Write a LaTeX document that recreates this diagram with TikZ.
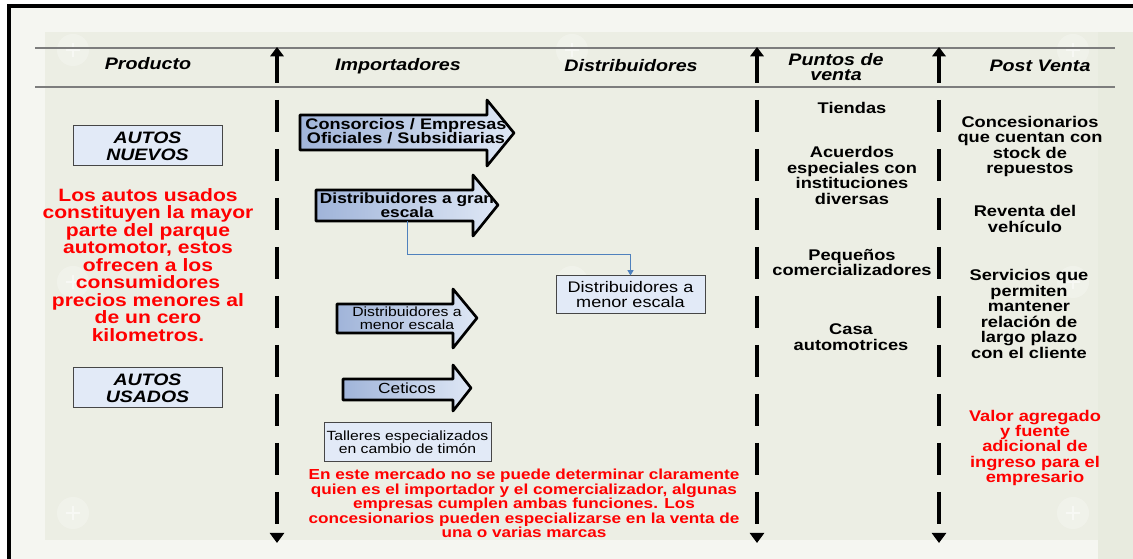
\documentclass[tikz,border=0pt]{standalone}
\usepackage{fontspec}
\setmainfont{Liberation Sans}[FakeStretch=1.18]
\usetikzlibrary{arrows.meta}

\begin{document}
\begin{tikzpicture}[x=0.75pt,y=0.75pt,yscale=-1,xscale=1,
  hdr/.style={font=\bfseries\itshape\fontsize{12.5}{11.3}\selectfont,align=center,inner sep=0.75pt},
  txt/.style={font=\bfseries\fontsize{11.6}{11.6}\selectfont,align=center,inner sep=0.75pt},
  redtxt/.style={txt,color={rgb, 255:red, 255; green, 0; blue, 0 }},
  prodbox/.style={draw={rgb, 255:red, 70; green, 70; blue, 70 },fill={rgb, 255:red, 226; green, 234; blue, 247 },line width=0.75pt,align=center,inner sep=0pt},
  blockarrow/.style={draw=black,line width=2pt,line join=round,left color={rgb, 255:red, 160; green, 180; blue, 217 },right color={rgb, 255:red, 222; green, 231; blue, 245 }},
  septop/.style={line width=2.3pt,-{Triangle[length=7pt,width=10pt]}},
  sepdash/.style={line width=2.3pt,dash pattern=on 24pt off 12.75pt,-{Triangle[length=7.5pt,width=10.5pt]}},
  hline/.style={color={rgb, 255:red, 125; green, 125; blue, 125 },line width=1.1pt},
  conn/.style={color={rgb, 255:red, 79; green, 129; blue, 189 },line width=0.75pt,-{Triangle[length=4pt,width=4.5pt]}}
]
\useasboundingbox (0,0) rectangle (1133,559);

%Background
\fill [color={rgb, 255:red, 245; green, 246; blue, 241 }] (9,6) rectangle (1133,559);
\fill [color={rgb, 255:red, 236; green, 238; blue, 228 }] (45,32) rectangle (1098,540);
\fill [color={rgb, 255:red, 232; green, 235; blue, 223 }] (1098,32) rectangle (1133,559);
\foreach \cx/\cy in {73/50,572/50,1073/50,73/282,572/282,1073/282,73/513,572/513,1073/513}{
  \fill [white,opacity=0.25] (\cx,\cy) circle (16);
  \draw [white,opacity=0.5,line width=1.2pt] (\cx-7,\cy) -- (\cx+7,\cy) (\cx,\cy-7) -- (\cx,\cy+7);
}
%Frame
\draw [line width=2.3pt] (9,559) -- (9,6) -- (1133,6);

%Header lines
\draw [hline] (35,48) -- (1115,48);
\draw [hline] (35,87) -- (1115,87);

%Separators
\draw [septop] (277,83) -- (277,47);
\draw [sepdash] (277,100) -- (277,543);
\draw [septop] (757,83) -- (757,47);
\draw [sepdash] (757,100) -- (757,543);
\draw [septop] (939,83) -- (939,47);
\draw [sepdash] (939,100) -- (939,543);

% Header Nodes
\draw (148,64) node [hdr] (hprod) {Producto};
\draw (398,66) node [hdr] (himp) {Importadores};
\draw (631,66) node [hdr] (hdist) {Distribuidores};
\draw (836,67) node [hdr] (hpunt) {Puntos de\\venta};
\draw (1040,66) node [hdr] (hpost) {Post Venta};

%Product boxes
\draw (147.5,146) node [prodbox,minimum width=111.75pt,minimum height=30pt,font=\bfseries\itshape\fontsize{12.4}{12.5}\selectfont] (nuevos) {AUTOS\\NUEVOS};
\draw (147.5,388) node [prodbox,minimum width=111.75pt,minimum height=30pt,font=\bfseries\itshape\fontsize{12.4}{12.5}\selectfont] (usados) {AUTOS\\USADOS};
\draw (148,265) node [redtxt,font=\bfseries\fontsize{13.4}{13.1}\selectfont] (usadosnota) {Los autos usados\\constituyen la mayor\\parte del parque\\automotor, estos\\ofrecen a los\\consumidores\\precios menores al\\de un cero\\kilometros.};

%Block arrows
\draw [blockarrow] (300,115) -- (487,115) -- (487,100) -- (514,133) -- (487,166) -- (487,150) -- (300,150) -- cycle;
\draw (406,131) node [txt,font=\bfseries\fontsize{11.5}{10.8}\selectfont] (consorcios) {Consorcios / Empresas\\Oficiales / Subsidiarias};
\draw [blockarrow] (316,190) -- (473,190) -- (473,175) -- (498,205) -- (473,236) -- (473,221) -- (316,221) -- cycle;
\draw (407,205) node [txt,font=\bfseries\fontsize{11}{10.5}\selectfont] (gran) {Distribuidores a gran\\escala};
\draw [blockarrow] (337,304) -- (453,304) -- (453,289) -- (477,318) -- (453,348) -- (453,333) -- (337,333) -- cycle;
\draw (407,318) node [txt,font=\fontsize{10}{9.5}\selectfont] (menor) {Distribuidores a\\menor escala};
\draw [blockarrow] (343,379) -- (453,379) -- (453,365) -- (471,388) -- (453,411) -- (453,400) -- (343,400) -- cycle;
\draw (407,388) node [txt,font=\fontsize{11}{11}\selectfont] (ceticos) {Ceticos};

%Other boxes
\draw (407.5,442.5) node [prodbox,minimum width=125.25pt,minimum height=29.25pt,font=\fontsize{10}{9.75}\selectfont] (talleres) {Talleres especializados\\en cambio de timón};
\draw (630.5,295) node [prodbox,minimum width=111.75pt,minimum height=28.5pt,font=\fontsize{11.5}{11.25}\selectfont] (menorbox) {Distribuidores a\\menor escala};

%Connector
\coordinate (granfoot) at (407,221);
\draw [conn] (granfoot) -- (407,255) -| (menorbox.north);

%Bottom note
\draw (524,503.5) node [redtxt,font=\bfseries\fontsize{10.9}{10.8}\selectfont] (mercado) {En este mercado no se puede determinar claramente\\quien es el importador y el comercializador, algunas\\empresas cumplen ambas funciones. Los\\concesionarios pueden especializarse en la venta de\\una o varias marcas};

% Puntos de venta
\draw (852,108) node [txt] (tiendas) {Tiendas};
\draw (852,175.5) node [txt] (acuerdos) {Acuerdos\\especiales con\\instituciones\\diversas};
\draw (852,262.5) node [txt] (pequenos) {Pequeños\\comercializadores};
\draw (851,337) node [txt] (casa) {Casa\\automotrices};

% Post venta
\draw (1030,146.5) node [txt] (concesionarios) {Concesionarios\\que cuentan con\\stock de\\repuestos};
\draw (1025,219) node [txt] (reventa) {Reventa del\\vehículo};
\draw (1029,314) node [txt] (servicios) {Servicios que\\permiten\\mantener\\relación de\\largo plazo\\con el cliente};
\draw (1035,448) node [redtxt] (valor) {Valor agregado\\y fuente\\adicional de\\ingreso para el\\empresario};

\end{tikzpicture}
\end{document}
